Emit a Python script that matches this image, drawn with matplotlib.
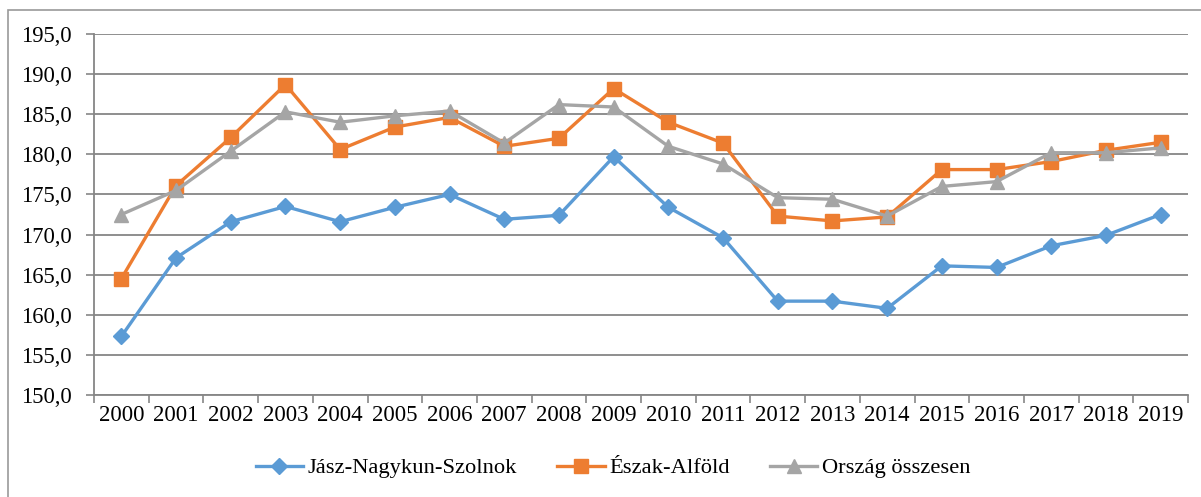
import matplotlib
matplotlib.use("Agg")
import matplotlib.pyplot as plt
from matplotlib.patches import Rectangle
import numpy as np

years = [str(y) for y in range(2000, 2020)]
jasz = [157.3, 167.1, 171.6, 173.5, 171.6, 173.4, 175.0, 171.9, 172.4, 179.7,
        173.4, 169.6, 161.7, 161.7, 160.8, 166.1, 165.9, 168.6, 169.9, 172.5]
eszak = [164.5, 176.1, 182.1, 188.7, 180.6, 183.4, 184.6, 181.0, 182.0, 188.2,
         184.0, 181.4, 172.3, 171.7, 172.2, 178.1, 178.1, 179.1, 180.5, 181.5]
orszag = [172.5, 175.5, 180.4, 185.3, 184.0, 184.8, 185.4, 181.4, 186.2, 185.9,
          181.0, 178.8, 174.6, 174.4, 172.3, 176.0, 176.6, 180.2, 180.2, 180.8]
series_names = ["Jász-Nagykun-Szolnok", "Észak-Alföld", "Ország összesen"]
yticks = np.arange(150, 196, 5)

plt.rcParams['font.family'] = ['Liberation Serif', 'DejaVu Serif']

fig = plt.figure(figsize=(12.01, 4.97), dpi=100)
fig.patches.append(Rectangle((8/1201, -0.1), 1.1, 1 - 10/497 + 0.1,
                             transform=fig.transFigure, fill=False,
                             edgecolor='#9a9a9a', linewidth=1.2))
ax = fig.add_axes([94/1201, 1 - 395/497, (1188 - 94)/1201, (395 - 34)/497])

x = np.arange(len(years))
ax.plot(x, jasz, color='#5B9BD5', lw=2.4, marker='D', ms=8, label=series_names[0], zorder=3)
ax.plot(x, eszak, color='#ED7D31', lw=2.4, marker='s', ms=9.5, label=series_names[1], zorder=4)
ax.plot(x, orszag, color='#A5A5A5', lw=2.4, marker='^', ms=10, label=series_names[2], zorder=5)

ax.set_xlim(-0.5, len(years) - 0.5)
ax.set_ylim(150, 195)
ax.set_yticks(yticks)
ax.set_yticklabels([f"{v:.1f}".replace('.', ',') for v in yticks], fontsize=16.3)
ax.set_xticks(x)
ax.set_xticklabels(years, fontsize=16.5)
ax.set_xticks(np.arange(-0.5, len(years), 1), minor=True)
ax.tick_params(axis='x', which='major', length=0, pad=7)
ax.tick_params(axis='x', which='minor', length=6, color='#868686', width=1.2, direction='out')
ax.tick_params(axis='y', length=6, color='#868686', width=1.2, pad=10)
ax.grid(axis='y', color='#868686', lw=1.3)
ax.set_axisbelow(True)
for s in ['top', 'right']:
    ax.spines[s].set_visible(False)
for s in ['left', 'bottom']:
    ax.spines[s].set_color('#868686')
    ax.spines[s].set_linewidth(1.3)

fig.legend(loc='center', bbox_to_anchor=(613/1201, 1 - 468/497), ncol=3, frameon=False,
           fontsize=16.2, handlelength=2.1, columnspacing=1.8, handletextpad=0.2)

fig.savefig('out.png', dpi=100)
